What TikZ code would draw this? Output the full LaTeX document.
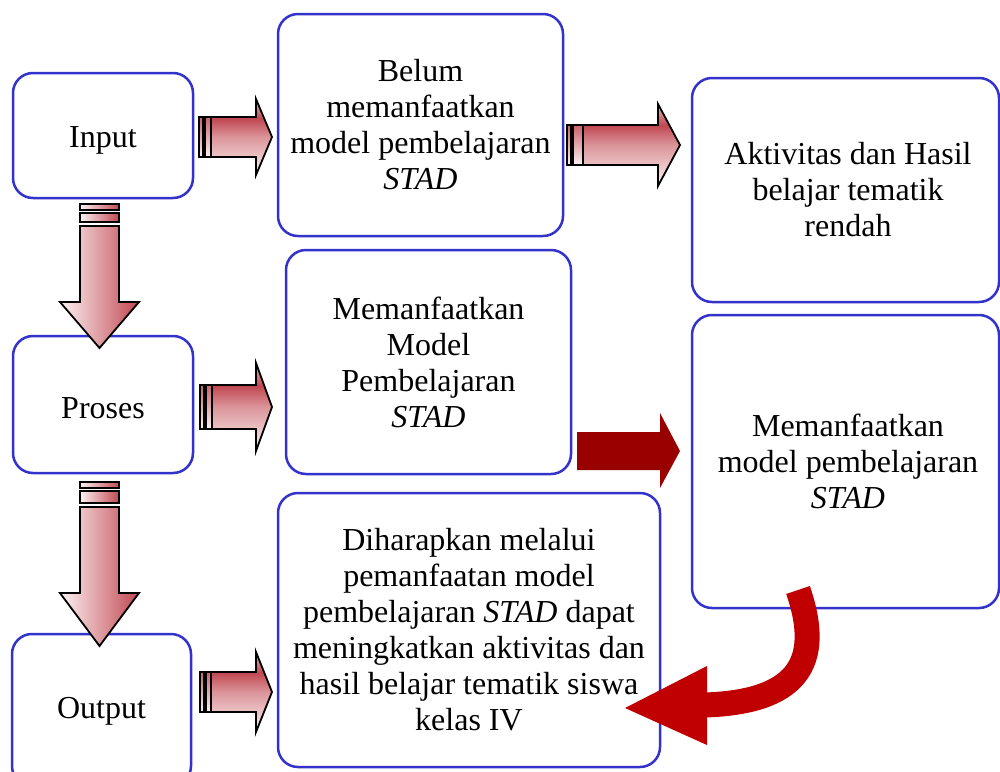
\documentclass[tikz,border=0pt]{standalone}
\usepackage{fontspec}
\setmainfont{Liberation Serif}
\definecolor{boxblue}{RGB}{51,51,204}
\definecolor{arrdark}{RGB}{192,72,82}
\definecolor{arrlight}{RGB}{252,242,242}
\definecolor{solidred}{RGB}{153,0,0}
\definecolor{curvred}{RGB}{192,0,0}
\pgfdeclareverticalshading{hgrad}{100bp}{color(0bp)=(arrlight); color(25bp)=(arrlight); color(50bp)=(arrdark!55!arrlight); color(62bp)=(arrdark); color(75bp)=(arrdark!35!arrlight); color(100bp)=(arrdark!35!arrlight)}
\tikzset{
  box/.style={draw=boxblue, line width=2.5pt, rounded corners=20pt, align=center,
    font=\fontsize{32}{36}\selectfont, inner sep=0pt, fill=white},
  harr/.style={draw=black, line width=1.8pt, line join=miter, shading=hgrad},
  harrstripe/.style={draw=black, line width=1.8pt, top color=arrdark!85!arrlight, bottom color=arrlight},
  varr/.style={draw=black, line width=1.8pt, line join=miter, left color=arrlight, right color=arrdark},
}
% #1 x0, #2 stripe total width, #3 x tip, #4 y centre, #5 head length, #6 shaft half height, #7 head half height
\newcommand\HArrow[7]{%
  \shadedraw[harrstripe] (#1,{#4-#6}) rectangle ({#1+4},{#4+#6});
  \shadedraw[harrstripe] ({#1+6},{#4-#6}) rectangle ({#1+#2},{#4+#6});
  \shadedraw[harr] ({#1+#2},{#4-#6}) -- ({#3-#5},{#4-#6}) -- ({#3-#5},{#4-#7}) -- (#3,#4)
    -- ({#3-#5},{#4+#7}) -- ({#3-#5},{#4+#6}) -- ({#1+#2},{#4+#6}) -- cycle;
}
% #1 x centre, #2 y0, #3 y tip, #4 head length, #5 shaft half width, #6 head half width, #7 stripe total height
\newcommand\VArrow[7]{%
  \shadedraw[varr] ({#1-#5},#2) rectangle ({#1+#5},{#2+6});
  \shadedraw[varr] ({#1-#5},{#2+9}) rectangle ({#1+#5},{#2+#7});
  \shadedraw[varr] ({#1-#5},{#2+#7+4}) -- ({#1-#5},{#3-#4}) -- ({#1-#6},{#3-#4}) -- (#1,#3)
    -- ({#1+#6},{#3-#4}) -- ({#1+#5},{#3-#4}) -- ({#1+#5},{#2+#7+4}) -- cycle;
}
\begin{document}
\begin{tikzpicture}[x=1pt,y=-1pt]
\useasboundingbox (0,0) rectangle (1000,771);

% boxes
\node[box, minimum width=180pt, minimum height=125pt] (input) at (103,135.5) {\raisebox{-5pt}[\height][\depth]{Input}};
\node[box, minimum width=180pt, minimum height=137pt] (proses) at (103,404.5) {\raisebox{-4pt}[\height][\depth]{Proses}};
\node[box, minimum width=179pt, minimum height=152pt] (output) at (101.5,710) {\raisebox{-1pt}[\height][\depth]{Output}};
\node[box, minimum width=285pt, minimum height=222pt] (belum) at (420.5,125)
  {Belum\\ memanfaatkan\\ model pembelajaran\\ \textit{STAD}};
\node[box, minimum width=285pt, minimum height=224pt] (mem1) at (428.5,362)
  {Memanfaatkan\\ Model\\ Pembelajaran\\ \textit{STAD}};
\node[box, minimum width=382pt, minimum height=274pt] (dih) at (469,630)
  {Diharapkan melalui\\ pemanfaatan model\\ pembelajaran \textit{STAD} dapat\\ meningkatkan aktivitas dan\\ hasil belajar tematik siswa\\ kelas IV};
\node[box, minimum width=307pt, minimum height=224pt] (akt) at (845.5,190)
  {\hspace*{5pt}Aktivitas dan Hasil\\ \hspace*{5pt}belajar tematik\\ \hspace*{5pt}rendah};
\node[box, minimum width=307pt, minimum height=293pt] (mem2) at (845.5,461.5)
  {\hspace*{5pt}Memanfaatkan\\ \hspace*{5pt}model pembelajaran\\ \hspace*{5pt}\textit{STAD}};

% striped gradient block arrows
\HArrow{199}{12}{272}{137}{16}{20}{38}
\HArrow{567}{16}{680}{145}{22}{20}{41}
\HArrow{200}{12}{272}{407}{16}{22}{44}
\HArrow{200}{11}{272}{692}{16}{20}{40}
\VArrow{99.5}{204}{348}{46}{19.5}{39.5}{18}
\VArrow{99.5}{482}{646}{53}{19.5}{39.5}{21}

% solid dark red arrow
\fill[solidred] (577,432) -- (660,432) -- (660,413) -- (680,451) -- (660,488) -- (660,470) -- (577,470) -- cycle;

% curved red arrow
\draw[curvred, line width=25pt] (798,590) .. controls (824,665) and (795,702) .. (705,705);
\fill[curvred] (707,666) -- (625,708) -- (707,745) -- cycle;
\end{tikzpicture}
\end{document}
